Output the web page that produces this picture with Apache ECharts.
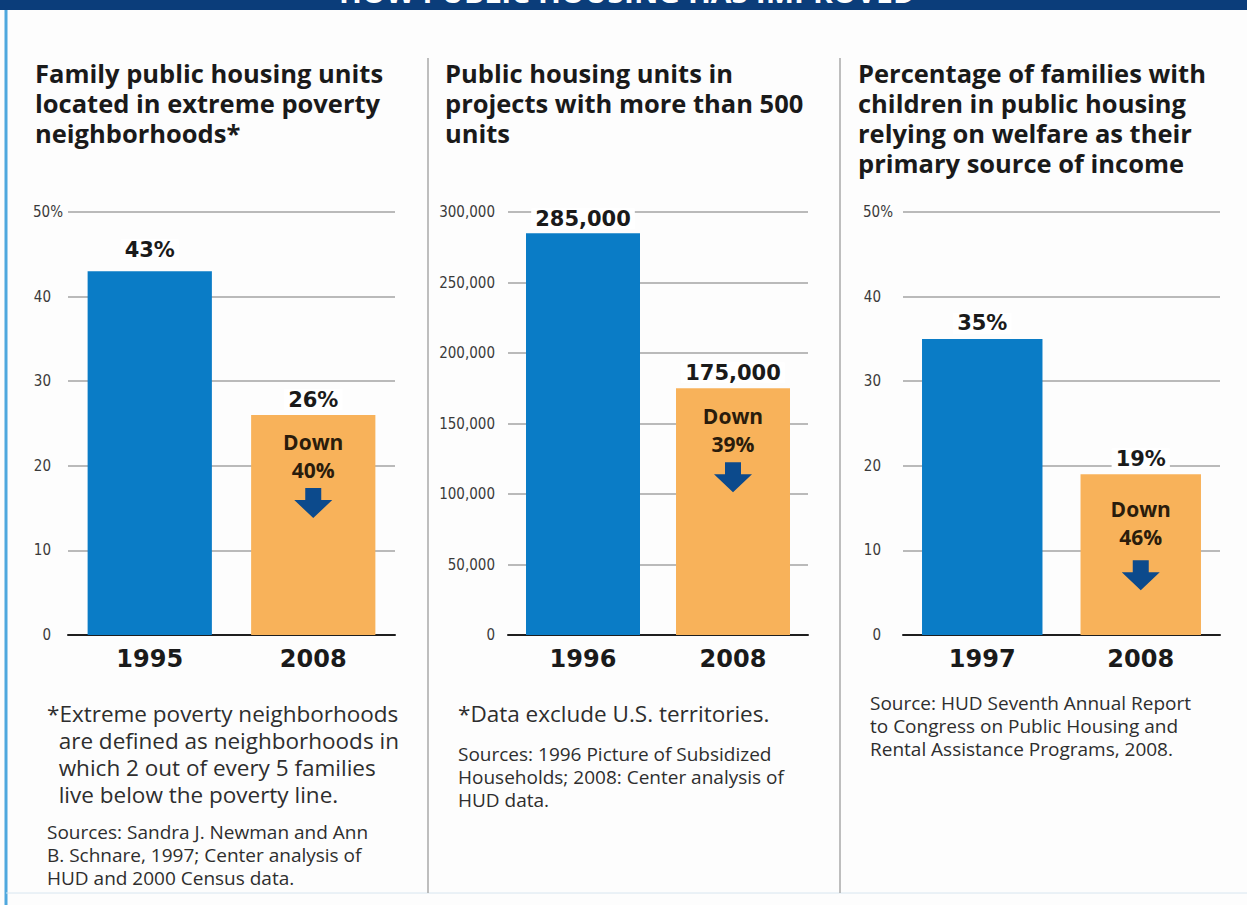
<!DOCTYPE html>
<html>
<head>
<meta charset="utf-8">
<script src="https://cdn.jsdelivr.net/npm/echarts@6/dist/echarts.min.js"></script>
<style>
html,body{margin:0;padding:0;background:#fdfdfd;}
#c{width:1247px;height:905px;}
</style>
</head>
<body>
<div id="c"></div>
<script>
// ---- data ----
const bannerTitle = 'HOW PUBLIC HOUSING HAS IMPROVED';
const panelTitles = [
  'Family public housing units\nlocated in extreme poverty\nneighborhoods*',
  'Public housing units in\nprojects with more than 500\nunits',
  'Percentage of families with\nchildren in public housing\nrelying on welfare as their\nprimary source of income'
];
const categories1 = ['1995', '2008'];
const values1 = [43, 26];
const categories2 = ['1996', '2008'];
const values2 = [285000, 175000];
const categories3 = ['1997', '2008'];
const values3 = [35, 19];
const downLabels = ['Down\n40%', 'Down\n39%', 'Down\n46%'];
const yTicks1 = ['0', '10', '20', '30', '40', '50%'];
const yTicks2 = ['0', '50,000', '100,000', '150,000', '200,000', '250,000', '300,000'];
const yTicks3 = ['0', '10', '20', '30', '40', '50%'];
const footnotes = [
  '*Extreme poverty neighborhoods\n  are defined as neighborhoods in\n  which 2 out of every 5 families\n  live below the poverty line.',
  '*Data exclude U.S. territories.'
];
const sources = [
  'Sources: Sandra J. Newman and Ann\nB. Schnare, 1997; Center analysis of\nHUD and 2000 Census data.',
  'Sources: 1996 Picture of Subsidized\nHouseholds; 2008: Center analysis of\nHUD data.',
  'Source: HUD Seventh Annual Report\nto Congress on Public Housing and\nRental Assistance Programs, 2008.'
];

// ---- style ----
const BLUE = '#0a7cc6';
const ORANGE = '#f8b25a';
const ARROW = '#0c4a8c';
const FONT = '"Open Sans", "Noto Sans", sans-serif';
const WIDE = '"DejaVu Sans", "Open Sans", sans-serif';
const NARROW = '"Liberation Sans Narrow", "DejaVu Sans Condensed", sans-serif';
const arrowPath = 'path://M11,0 L27,0 L27,12 L38,12 L19,30 L0,12 L11,12 Z';

const chart = echarts.init(document.getElementById('c'), null, {renderer: 'svg'});

const grids = [
  {left: 68, top: 212, width: 327, height: 423},
  {left: 508, top: 212, width: 300, height: 423},
  {left: 903, top: 212, width: 317, height: 423}
];
const cats = [categories1, categories2, categories3];
const vals = [values1, values2, values3];
const ticks = [yTicks1, yTicks2, yTicks3];
const yMax = [50, 300000, 50];
const yInt = [10, 50000, 10];
const yMargin = [5, 13, 10];
const hasPct = [true, false, true];
const arrowOff = [88, 89, 101];
const downDist = [4, 4, 9];
const labelDist = [[11, 5], [4, 5], [5, 5]];
const fmtVal = [v => v + '%', v => v.toLocaleString('en-US'), v => v + '%'];

const xAxes = [], yAxes = [], series = [];
for (let i = 0; i < 3; i++) {
  xAxes.push({
    type: 'category', gridIndex: i, data: cats[i],
    axisLine: {lineStyle: {color: '#1e1e1e', width: 2}},
    axisTick: {show: false},
    axisLabel: {margin: 12, fontFamily: WIDE, fontWeight: 'bold', fontSize: 24, color: '#1a1a1a'}
  });
  const tk = ticks[i], iv = yInt[i], pct = hasPct[i];
  yAxes.push({
    type: 'value', gridIndex: i, min: 0, max: yMax[i], interval: iv,
    axisLine: {show: false}, axisTick: {show: false},
    axisLabel: {margin: yMargin[i], fontFamily: NARROW, fontSize: 15, color: '#3a3a3a',
      formatter: v => {
        const t = tk[Math.round(v / iv)];
        return (pct && t.indexOf('%') < 0) ? t + '{s|}' : t;
      },
      rich: {s: {width: 12}}},
    splitLine: {lineStyle: {color: '#a3a3a3', width: 1.5}}
  });
  series.push({
    type: 'bar', xAxisIndex: i, yAxisIndex: i, barWidth: '76%',
    data: vals[i].map((v, j) => ({value: v, itemStyle: {color: j === 0 ? BLUE : ORANGE},
      label: {distance: labelDist[i][j]}})),
    label: {show: true, position: 'top', fontFamily: WIDE, fontWeight: 'bold',
      fontSize: 21, color: '#1a1a1a', backgroundColor: '#ffffff', padding: [0, 4, 0, 4],
      formatter: (p => fmtVal[i](p.value))},
    markPoint: {
      symbol: arrowPath, symbolSize: [38, 30], silent: true, animation: false,
      itemStyle: {color: ARROW},
      label: {show: true, position: 'top', distance: downDist[i], formatter: downLabels[i],
        fontFamily: FONT, fontWeight: 'bold', fontSize: 21, lineHeight: 28, color: '#2a1c0c'},
      data: [{coord: [1, vals[i][1]], symbolOffset: [0, arrowOff[i]]}]
    },
    animation: false
  });
}

const titleX = [35, 445, 858];
const footX = [47, 458, 870];
const graphic = [
  {type: 'rect', shape: {x: 0, y: 0, width: 1247, height: 10}, style: {fill: '#0b3d7a'}},
  {type: 'text', x: 627, y: -9, style: {text: bannerTitle, fill: '#ffffff', font: 'bold 30px ' + FONT,
    textAlign: 'center', textVerticalAlign: 'middle'}},
  {type: 'line', shape: {x1: 6, y1: 10, x2: 6, y2: 905}, style: {stroke: '#4fa8de', lineWidth: 3}},
  {type: 'line', shape: {x1: 6, y1: 893, x2: 1247, y2: 893}, style: {stroke: '#d8e6f0', lineWidth: 1}},
  {type: 'line', shape: {x1: 428, y1: 58, x2: 428, y2: 893}, style: {stroke: '#a8a8a8', lineWidth: 1.5}},
  {type: 'line', shape: {x1: 840, y1: 58, x2: 840, y2: 893}, style: {stroke: '#a8a8a8', lineWidth: 1.5}}
];
for (let i = 0; i < 3; i++) {
  graphic.push({type: 'text', x: titleX[i], y: 58, style: {text: panelTitles[i], fill: '#1a1a1a',
    font: 'bold 25.5px ' + FONT, lineHeight: 30}});
}
for (let i = 0; i < footnotes.length; i++) {
  graphic.push({type: 'text', x: footX[i], y: 700, style: {text: footnotes[i], fill: '#2e2e2e',
    font: '22.5px ' + FONT, lineHeight: 27}});
}
const srcY = [820, 742, 691];
for (let i = 0; i < 3; i++) {
  graphic.push({type: 'text', x: footX[i], y: srcY[i], style: {text: sources[i], fill: '#2e2e2e',
    font: '19px ' + FONT, lineHeight: 23}});
}

chart.setOption({
  animation: false,
  backgroundColor: '#fdfdfd',
  grid: grids,
  xAxis: xAxes,
  yAxis: yAxes,
  series: series,
  graphic: graphic
});
</script>
</body>
</html>
